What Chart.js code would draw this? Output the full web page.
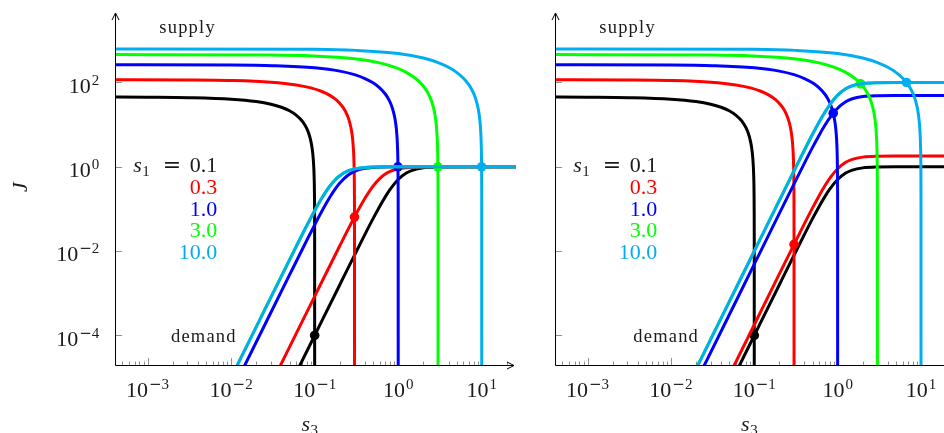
<!DOCTYPE html>
<html>
<head>
<meta charset="utf-8">
<script src="https://cdn.jsdelivr.net/npm/chart.js@4"></script>
<style>
  html, body { margin: 0; padding: 0; background: #fff; width: 944px; height: 433px; overflow: hidden; }
  canvas { position: absolute; top: 0; }
  #left { left: 0; }
  #right { left: 540px; }
</style>
</head>
<body>
<canvas id="left" width="540" height="433"></canvas>
<canvas id="right" width="420" height="433"></canvas>
<script>
// one family of curves per s1 value
const s1Labels = ['0.1', '0.3', '1.0', '3.0', '10.0'];
const curveColors = ['#000000', '#ff0000', '#0000ff', '#00ff00', '#00aeef'];

// tick positions and their exponents
const xTicks = [1e-3, 1e-2, 1e-1, 1, 10];
const xTickExp = [-3, -2, -1, 0, 1];
const yTicks = [1e-4, 1e-2, 1, 100];
const yTickExp = [-4, -2, 0, 2];

// supply flux J against s3, same in both panels: [s3, J]
const supplyBlack = [[3e-4, 45], [0.001, 44.5], [0.00316, 43.41], [0.01, 40.02], [0.02, 35.16], [0.03, 30.41], [0.04, 25.76], [0.05, 21.23], [0.06, 16.79], [0.07, 12.45], [0.075, 10.32], [0.08, 8.21], [0.085, 6.125], [0.09, 4.061], [0.093, 2.834], [0.095, 2.02], [0.097, 1.209], [0.098, 0.8053], [0.099, 0.4022], [0.0995, 0.201], [0.0998, 0.08037], [0.09995, 0.02009], [0.1, 1e-6]];
const supplyRed = [[3e-4, 116], [0.003, 114.47], [0.00949, 111.21], [0.03, 101.16], [0.06, 87.22], [0.09, 74.09], [0.12, 61.7], [0.15, 50.0], [0.18, 38.93], [0.21, 28.43], [0.225, 23.39], [0.24, 18.47], [0.255, 13.68], [0.27, 9.006], [0.279, 6.258], [0.285, 4.448], [0.291, 2.656], [0.294, 1.766], [0.297, 0.8809], [0.2985, 0.4399], [0.2994, 0.1758], [0.29985, 0.04395], [0.3, 1e-6]];
const supplyBlue = [[3e-4, 264], [0.01, 259.5], [0.0316, 250.1], [0.1, 222.1], [0.2, 185.3], [0.3, 152.7], [0.4, 123.75], [0.5, 97.78], [0.6, 74.37], [0.7, 53.15], [0.75, 43.28], [0.8, 33.85], [0.85, 24.83], [0.9, 16.2], [0.93, 11.19], [0.95, 7.928], [0.97, 4.717], [0.98, 3.132], [0.99, 1.559], [0.995, 0.7781], [0.998, 0.3108], [0.9995, 0.07766], [1, 1e-6]];
const supplyGreen = [[3e-4, 457], [0.03, 446.6], [0.0949, 425.1], [0.3, 364.0], [0.6, 290.2], [0.9, 230.1], [1.2, 180.4], [1.5, 138.5], [1.8, 102.7], [2.1, 71.78], [2.25, 57.85], [2.4, 44.8], [2.55, 32.56], [2.7, 21.06], [2.79, 14.48], [2.85, 10.22], [2.91, 6.064], [2.94, 4.019], [2.97, 1.998], [2.985, 0.9963], [2.994, 0.3978], [2.9985, 0.09937], [3, 1e-6]];
const supplyCyan = [[3e-4, 624], [0.1, 608.0], [0.316, 575.2], [1, 484.1], [2, 378.2], [3, 295.1], [4, 228.3], [5, 173.3], [6, 127.3], [7, 88.3], [7.5, 70.91], [8, 54.74], [8.5, 39.66], [9, 25.57], [9.3, 17.56], [9.5, 12.38], [9.7, 7.335], [9.8, 4.86], [9.9, 2.415], [9.95, 1.204], [9.98, 0.4806], [9.995, 0.12], [10, 1e-6]];

// demand flux, left panel (all level off at J = 1)
const demandLeftBlack = [[0.04, 2.56e-6], [0.1, 1.0e-4], [0.2, 1.597e-3], [0.3, 8.035e-3], [0.4, 0.02496], [0.5, 0.05882], [0.6, 0.1147], [0.7, 0.1936], [0.8, 0.2906], [1.0, 0.5], [1.25, 0.7094], [1.5, 0.835], [2, 0.9412], [3, 0.9878], [5, 0.9984], [26, 1.0]];
const demandLeftRed = [[0.025, 3.32e-6], [0.05, 5.31e-5], [0.1, 8.49e-4], [0.2, 0.01342], [0.3, 0.06441], [0.4, 0.1787], [0.5, 0.3469], [0.6, 0.5242], [0.7, 0.6711], [0.8, 0.7769], [1.0, 0.8947], [1.25, 0.954], [1.5, 0.9773], [2, 0.9927], [3, 0.9985], [26, 1.0]];
const demandLeftBlue = [[0.01, 4.37e-6], [0.02, 6.99e-5], [0.05, 2.724e-3], [0.08, 0.01759], [0.1, 0.04187], [0.12, 0.08309], [0.15, 0.1811], [0.18, 0.3145], [0.2, 0.4115], [0.25, 0.6306], [0.3, 0.7797], [0.4, 0.918], [0.5, 0.9647], [0.7, 0.9906], [1, 0.9977], [2, 0.9999], [26, 1.0]];
const demandLeftGreen = [[0.01, 1.0e-5], [0.02, 1.6e-4], [0.05, 6.21e-3], [0.08, 0.03935], [0.1, 0.0909], [0.12, 0.1718], [0.15, 0.3361], [0.18, 0.5122], [0.2, 0.6154], [0.25, 0.7962], [0.3, 0.8901], [0.4, 0.9624], [0.5, 0.9843], [0.7, 0.9959], [1, 0.999], [2, 0.99994], [26, 1.0]];
const demandLeftCyan = [[0.01, 1.0e-5], [0.02, 1.6e-4], [0.05, 6.21e-3], [0.08, 0.03935], [0.1, 0.0909], [0.12, 0.1718], [0.15, 0.3361], [0.18, 0.5122], [0.2, 0.6154], [0.25, 0.7962], [0.3, 0.8901], [0.4, 0.9624], [0.5, 0.9843], [0.7, 0.9959], [1, 0.999], [2, 0.99994], [26, 1.0]];

// demand flux, right panel (different plateau per s1)
const demandRightBlack = [[0.04, 2.56e-6], [0.1, 1.0e-4], [0.2, 1.597e-3], [0.3, 8.035e-3], [0.4, 0.02496], [0.5, 0.05882], [0.6, 0.1147], [0.7, 0.1936], [0.8, 0.2906], [1.0, 0.5], [1.25, 0.7094], [1.5, 0.835], [2, 0.9412], [3, 0.9878], [5, 0.9984], [26, 1.0]];
const demandRightRed = [[0.03, 1.46e-6], [0.1, 1.8e-4], [0.2, 2.875e-3], [0.3, 0.01446], [0.4, 0.04493], [0.5, 0.1059], [0.6, 0.2065], [0.7, 0.3485], [0.8, 0.5231], [1.0, 0.9], [1.25, 1.277], [1.5, 1.503], [2, 1.694], [3, 1.778], [5, 1.797], [26, 1.8]];
const demandRightBlue = [[0.01, 4.9e-7], [0.05, 3.06e-4], [0.1, 4.9e-3], [0.2, 0.07825], [0.3, 0.3937], [0.4, 1.223], [0.5, 2.882], [0.6, 5.62], [0.7, 9.486], [0.8, 14.24], [1.0, 24.5], [1.25, 34.76], [1.5, 40.92], [2, 46.12], [3, 48.4], [5, 48.92], [26, 49]];
const demandRightGreen = [[0.01, 1e-6], [0.05, 6.25e-4], [0.1, 0.01], [0.2, 0.1597], [0.3, 0.8035], [0.4, 2.496], [0.5, 5.882], [0.6, 11.47], [0.7, 19.36], [0.8, 29.06], [1.0, 50], [1.25, 70.94], [1.5, 83.5], [2, 94.12], [3, 98.78], [5, 99.84], [26, 100]];
const demandRightCyan = [[0.01, 1e-6], [0.05, 6.25e-4], [0.1, 0.01], [0.2, 0.1597], [0.3, 0.8035], [0.4, 2.496], [0.5, 5.882], [0.6, 11.47], [0.7, 19.36], [0.8, 29.06], [1.0, 50], [1.25, 70.94], [1.5, 83.5], [2, 94.12], [3, 98.78], [5, 99.84], [26, 100]];

// steady states where supply meets demand
const crossLeft = [[0.1, 1.0e-4], [0.2998, 0.0643], [0.9936, 0.998], [2.985, 0.9999], [9.958, 1.0]];
const crossRight = [[0.1, 1.0e-4], [0.29995, 0.01446], [0.885, 18.7], [1.89, 92.8], [6.69, 99.9]];

const supplies = [supplyBlack, supplyRed, supplyBlue, supplyGreen, supplyCyan];
const demandsLeft = [demandLeftBlack, demandLeftRed, demandLeftBlue, demandLeftGreen, demandLeftCyan];
const demandsRight = [demandRightBlack, demandRightRed, demandRightBlue, demandRightGreen, demandRightCyan];

const SERIF = '"Liberation Serif", "DejaVu Serif", serif';

function buildSets(demands, crossings) {
  const lineStyle = { borderWidth: 3, pointRadius: 0, cubicInterpolationMode: 'monotone', clip: 0, fill: false };
  const sets = [];
  curveColors.forEach((color, i) => {
    sets.push({ data: supplies[i], borderColor: color, ...lineStyle });
    sets.push({ data: demands[i], borderColor: color, ...lineStyle });
    sets.push({ data: [crossings[i]], showLine: false, pointRadius: 4.8, pointBorderWidth: 0,
      pointBackgroundColor: color, pointBorderColor: color, clip: false });
  });
  // later families are drawn over earlier ones
  sets.forEach((s, k) => { s.order = sets.length - k; });
  return sets;
}

// "10" with a raised exponent
function powLabel(ctx, exp, x, baseY, align) {
  const minus = exp < 0;
  const digits = String(Math.abs(exp));
  ctx.font = '22px ' + SERIF;
  const wb = ctx.measureText('10').width;
  ctx.font = '15px "DejaVu Serif"';
  const wm = minus ? ctx.measureText('\u2212').width : 0;
  ctx.font = '15px ' + SERIF;
  const wd = ctx.measureText(digits).width;
  const total = wb + 1 + wm + wd;
  const x0 = align === 'right' ? x - total : x - total / 2;
  ctx.textAlign = 'left';
  ctx.textBaseline = 'alphabetic';
  ctx.font = '22px ' + SERIF;
  ctx.fillText('10', x0, baseY);
  if (minus) {
    ctx.font = '15px "DejaVu Serif"';
    ctx.fillText('\u2212', x0 + wb + 1, baseY - 8);
  }
  ctx.font = '15px ' + SERIF;
  ctx.fillText(digits, x0 + wb + 1 + wm, baseY - 8);
}

// italic s with a subscript
function mathS(ctx, sub, x, y) {
  ctx.textAlign = 'left';
  ctx.font = 'italic 22px ' + SERIF;
  ctx.fillText('s', x, y);
  const w = ctx.measureText('s').width;
  ctx.font = '15px ' + SERIF;
  ctx.fillText(sub, x + w + 0.5, y + 4);
}

const panelDecor = {
  id: 'panelDecor',
  beforeDatasetsDraw(chart) {
    const { ctx, chartArea: a, scales: { x, y } } = chart;
    ctx.save();
    ctx.strokeStyle = '#8f8f8f';
    ctx.lineWidth = 1;
    ctx.beginPath();
    yTicks.forEach(v => {
      const py = Math.round(y.getPixelForValue(v)) + 0.5;
      ctx.moveTo(a.left, py);
      ctx.lineTo(a.left + 7, py);
    });
    for (let e = -4; e <= 1; e++) {
      for (let k = 1; k <= 9; k++) {
        const v = k * Math.pow(10, e);
        if (v < x.min || v > x.max) continue;
        const px = Math.round(x.getPixelForValue(v)) + 0.5;
        ctx.moveTo(px, a.bottom);
        ctx.lineTo(px, a.bottom - (k === 1 ? 7 : 3.5));
      }
    }
    ctx.stroke();
    ctx.restore();
  },
  afterDraw(chart, args, opts) {
    const { ctx, chartArea: a, scales: { x, y } } = chart;
    ctx.save();

    // axis lines with arrow heads
    const ax = a.left + 0.5, ay = a.bottom + 0.5;
    const tipX = a.right - 2, tipY = 13;
    ctx.strokeStyle = '#000';
    ctx.lineWidth = 1;
    ctx.beginPath();
    ctx.moveTo(ax, ay); ctx.lineTo(ax, tipY);
    ctx.moveTo(ax, ay); ctx.lineTo(tipX, ay);
    ctx.moveTo(ax - 3.5, tipY + 7); ctx.lineTo(ax, tipY); ctx.lineTo(ax + 3.5, tipY + 7);
    ctx.moveTo(tipX - 7, ay - 3.5); ctx.lineTo(tipX, ay); ctx.lineTo(tipX - 7, ay + 3.5);
    ctx.stroke();

    ctx.fillStyle = '#1a1a1a';
    xTicks.forEach((v, i) => powLabel(ctx, xTickExp[i], x.getPixelForValue(v), a.bottom + 31.7, 'center'));
    if (opts.yLabels) {
      yTicks.forEach((v, i) => powLabel(ctx, yTickExp[i], a.left - 15.7, y.getPixelForValue(v) + 10.3, 'right'));
      ctx.save();
      ctx.translate(27, 187);
      ctx.rotate(-Math.PI / 2);
      ctx.font = 'italic 22px ' + SERIF;
      ctx.textAlign = 'center';
      ctx.fillText('J', 0, 0);
      ctx.restore();
    }

    // axis title s3
    mathS(ctx, '3', (a.left + a.right) / 2 - 14, 431);

    // curve names
    ctx.font = '18.5px ' + SERIF;
    ctx.letterSpacing = '1.2px';
    ctx.textAlign = 'left';
    ctx.fillText('supply', a.left + 44.3, 33.3);
    ctx.fillText('demand', a.left + opts.demandX, 341.7);
    ctx.letterSpacing = '0px';

    // s1 key
    const right = a.left + 102.3;
    const rows = [172.3, 194, 215.7, 237.4, 259];
    mathS(ctx, '1', a.left + 18.3, rows[0]);
    ctx.font = '22px "DejaVu Serif"';
    ctx.textAlign = 'center';
    ctx.fillText('=', a.left + 57, rows[0]);
    ctx.font = '22px ' + SERIF;
    ctx.textAlign = 'right';
    s1Labels.forEach((t, i) => {
      ctx.fillStyle = i === 0 ? '#1a1a1a' : curveColors[i];
      ctx.fillText(t, right, rows[i]);
    });
    ctx.restore();
  }
};

function makePanel(id, demands, crossings, pad, decor) {
  return new Chart(document.getElementById(id), {
    type: 'line',
    data: { datasets: buildSets(demands, crossings) },
    options: {
      responsive: false,
      animation: false,
      events: [],
      layout: { padding: pad },
      elements: { line: { capBezierPoints: false } },
      plugins: { legend: { display: false }, tooltip: { enabled: false }, panelDecor: decor },
      scales: {
        x: { type: 'logarithmic', min: Math.pow(10, -3.39), max: Math.pow(10, 1.41), display: false },
        y: { type: 'logarithmic', min: Math.pow(10, -4.7), max: Math.pow(10, 3.48), display: false }
      }
    },
    plugins: [panelDecor]
  });
}

makePanel('left', demandsLeft, crossLeft, { left: 115, right: 24, top: 20, bottom: 68 }, { yLabels: true, demandX: 56 });
makePanel('right', demandsRight, crossRight, { left: 15, right: 4, top: 20, bottom: 68 }, { yLabels: false, demandX: 78.3 });
</script>
</body>
</html>
